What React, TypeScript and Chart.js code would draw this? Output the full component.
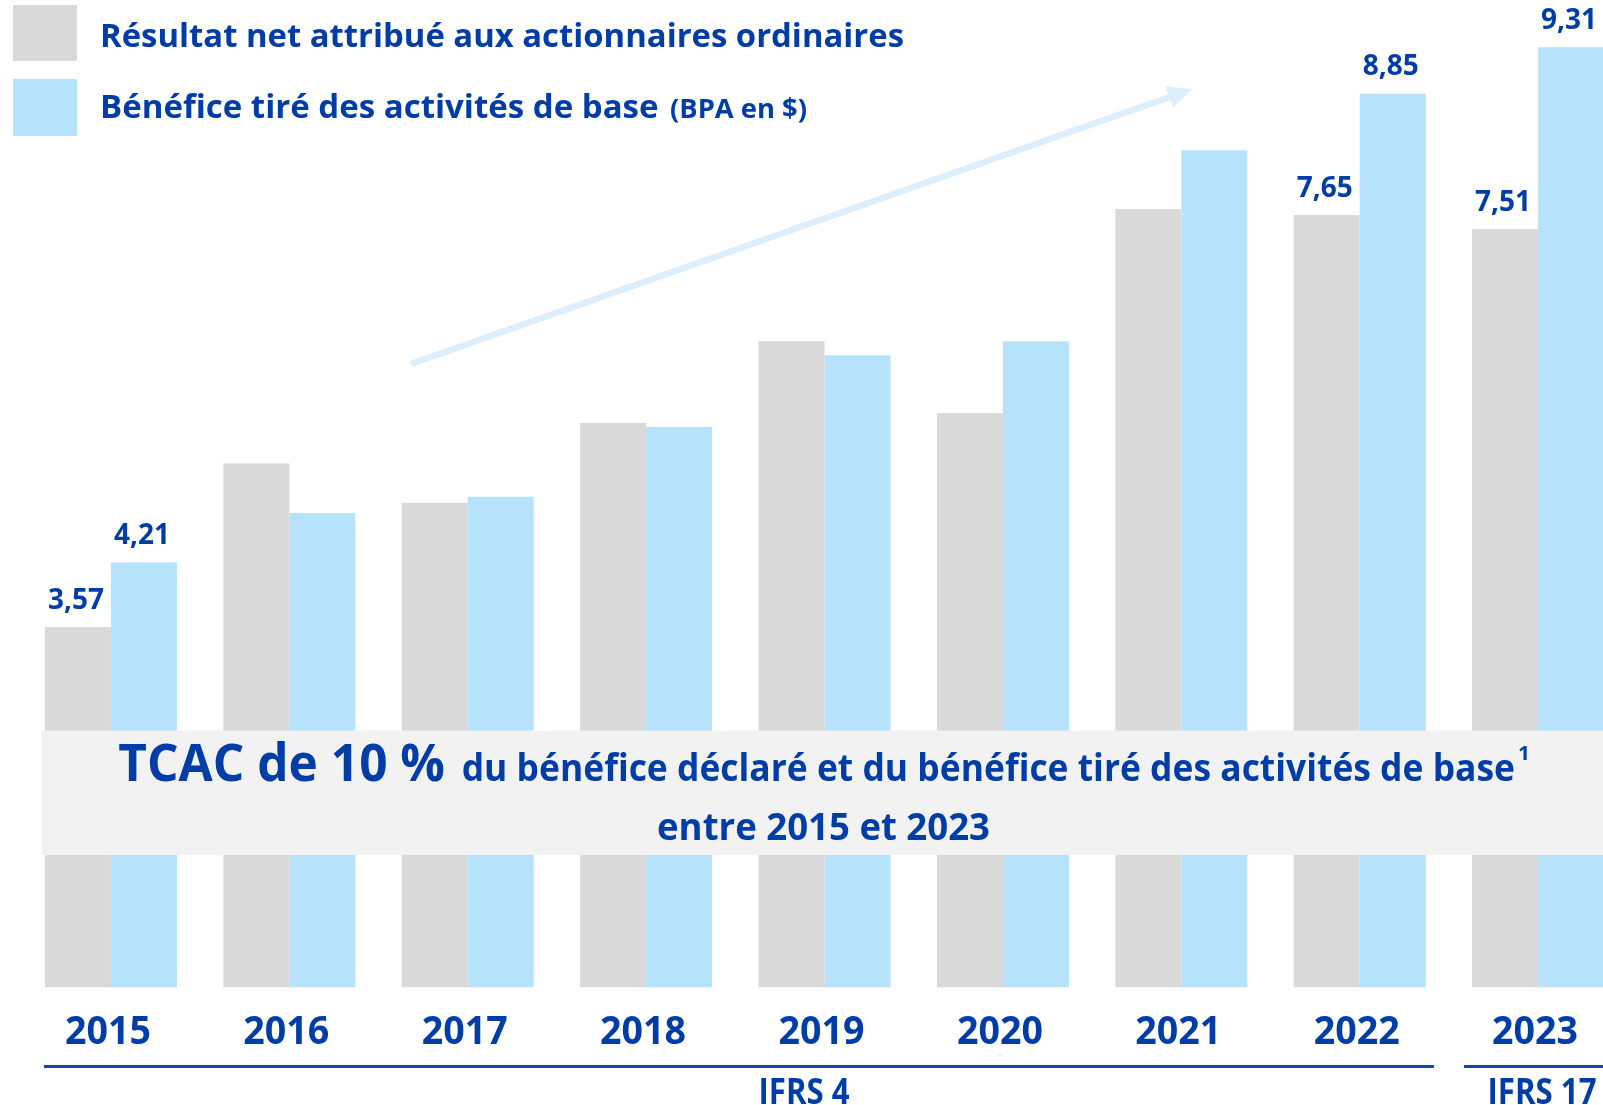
import React, { useEffect, useRef } from 'react';
import { Chart, registerables } from 'chart.js';

Chart.register(...registerables);

// ---------- Data ----------
const YEARS = ['2015', '2016', '2017', '2018', '2019', '2020', '2021', '2022', '2023'];
const NET_INCOME_EPS = [3.57, 5.19, 4.8, 5.59, 6.4, 5.69, 7.71, 7.65, 7.51];
const CORE_EPS = [4.21, 4.7, 4.86, 5.55, 6.26, 6.4, 8.29, 8.85, 9.31];
const LABELED_YEARS = ['2015', '2022', '2023'];
const SERIES_NAMES = [
  'Résultat net attribué aux actionnaires ordinaires',
  'Bénéfice tiré des activités de base',
];
const LEGEND_UNIT = '(BPA en $)';
const REGIME_NAMES = ['IFRS 4', 'IFRS 17'];
const REGIME_LAST_YEAR = ['2022', '2023'];
const BANNER_BIG = 'TCAC de 10 %';
const BANNER_SMALL = 'du bénéfice déclaré et du bénéfice tiré des activités de base';
const BANNER_NOTE = '1';
const BANNER_LINE2 = 'entre 2015 et 2023';

// ---------- Styles ----------
const TEXT_BLUE = '#003da6';
const GREY = '#d9d9d9';
const LIGHT_BLUE = '#b6e3fb';
const ARROW_BLUE = '#ddeffc';
const BANNER_BG = '#f2f2f2';
const FONT = '"Open Sans", "Noto Sans", "DejaVu Sans", sans-serif';

function drawText(
  ctx: CanvasRenderingContext2D,
  text: string,
  x: number,
  y: number,
  size: number,
  width?: number,
  align: 'left' | 'center' = 'left'
) {
  ctx.font = `700 ${size}px ${FONT}`;
  const w = ctx.measureText(text).width;
  const sx = width ? width / w : 1;
  ctx.save();
  ctx.translate(x, y);
  ctx.scale(sx, 1);
  ctx.textAlign = 'left';
  ctx.textBaseline = 'alphabetic';
  ctx.fillStyle = TEXT_BLUE;
  ctx.fillText(text, align === 'center' ? -w / 2 : 0, 0);
  ctx.restore();
}

const decorPlugin = {
  id: 'decor',
  beforeDatasetsDraw(chart: any) {
    const ctx: CanvasRenderingContext2D = chart.ctx;
    // growth arrow
    const x0 = 411, y0 = 364, x1 = 1192, y1 = 89;
    const dx = x1 - x0, dy = y1 - y0;
    const len = Math.hypot(dx, dy);
    const ux = dx / len, uy = dy / len;
    const head = 24, half = 11;
    ctx.save();
    ctx.strokeStyle = ARROW_BLUE;
    ctx.fillStyle = ARROW_BLUE;
    ctx.lineWidth = 6.5;
    ctx.lineCap = 'butt';
    ctx.beginPath();
    ctx.moveTo(x0, y0);
    ctx.lineTo(x1 - ux * head, y1 - uy * head);
    ctx.stroke();
    ctx.beginPath();
    ctx.moveTo(x1, y1);
    ctx.lineTo(x1 - ux * head - uy * half, y1 - uy * head + ux * half);
    ctx.lineTo(x1 - ux * head + uy * half, y1 - uy * head - ux * half);
    ctx.closePath();
    ctx.fill();
    ctx.restore();
  },
  afterDatasetsDraw(chart: any) {
    const ctx: CanvasRenderingContext2D = chart.ctx;
    const xScale = chart.scales.x;

    // value labels
    chart.data.datasets.forEach((ds: any, di: number) => {
      const meta = chart.getDatasetMeta(di);
      meta.data.forEach((el: any, i: number) => {
        if (!LABELED_YEARS.includes(chart.data.labels[i])) return;
        const txt = Number(ds.data[i]).toFixed(2).replace('.', ',');
        drawText(ctx, txt, el.x - 2, el.y - 18.4, 28, undefined, 'center');
      });
    });

    // banner
    ctx.save();
    ctx.fillStyle = BANNER_BG;
    ctx.fillRect(42, 730.5, chart.width - 42, 124.5);
    ctx.restore();
    drawText(ctx, BANNER_BIG, 118.3, 780.5, 52, 326.7);
    drawText(ctx, BANNER_SMALL, 461.7, 780.5, 38, 1053.3);
    drawText(ctx, BANNER_NOTE, 1518, 759.5, 20, 12);
    drawText(ctx, BANNER_LINE2, 657, 839.5, 38, 333);

    // legend
    const colors = [GREY, LIGHT_BLUE];
    const boxes = [
      [13, 5, 64, 56],
      [13, 79, 64, 57],
    ];
    ctx.save();
    boxes.forEach((b, i) => {
      ctx.fillStyle = colors[i];
      ctx.fillRect(b[0], b[1], b[2], b[3]);
    });
    ctx.restore();
    drawText(ctx, chart.data.datasets[0].label, 100, 46.7, 32, 804);
    drawText(ctx, chart.data.datasets[1].label, 100, 118.3, 32, 558.5);
    drawText(ctx, LEGEND_UNIT, 670, 118.3, 26, 137);

    // year labels
    chart.data.labels.forEach((lab: string, i: number) => {
      drawText(ctx, lab, xScale.getPixelForValue(i) - 3, 1043.5, 39, 86, 'center');
    });

    // regime lines
    const firstLeft = xScale.getPixelForValue(0) - 67;
    const boundary =
      (xScale.getPixelForValue(YEARS.indexOf(REGIME_LAST_YEAR[0])) +
        xScale.getPixelForValue(YEARS.indexOf(REGIME_LAST_YEAR[1]))) / 2;
    ctx.save();
    ctx.strokeStyle = '#1a45a8';
    ctx.lineWidth = 3;
    ctx.beginPath();
    ctx.moveTo(firstLeft, 1066.5);
    ctx.lineTo(boundary - 15, 1066.5);
    ctx.moveTo(boundary + 15, 1066.5);
    ctx.lineTo(chart.width, 1066.5);
    ctx.stroke();
    ctx.restore();
    drawText(ctx, REGIME_NAMES[0], 804, 1104, 35, 91, 'center');
    drawText(ctx, REGIME_NAMES[1], 1542, 1104, 35, 109, 'center');
  },
};

export default function App() {
  const ref = useRef<HTMLCanvasElement | null>(null);

  useEffect(() => {
    if (!ref.current) return;
    const chart = new Chart(ref.current, {
      type: 'bar',
      data: {
        labels: YEARS,
        datasets: [
          {
            label: SERIES_NAMES[0],
            data: NET_INCOME_EPS,
            backgroundColor: GREY,
            borderWidth: 0,
            barPercentage: 1,
            categoryPercentage: 0.74,
          },
          {
            label: SERIES_NAMES[1],
            data: CORE_EPS,
            backgroundColor: LIGHT_BLUE,
            borderWidth: 0,
            barPercentage: 1,
            categoryPercentage: 0.74,
          },
        ],
      },
      options: {
        responsive: false,
        animation: false,
        devicePixelRatio: 1,
        layout: { padding: { left: 21.7, right: 12.7, top: 7.9, bottom: 117.4 } },
        scales: {
          x: { display: false, offset: true },
          y: { display: false, min: 0, max: 9.7 },
        },
        plugins: {
          legend: { display: false },
          tooltip: { enabled: false },
        },
      },
      plugins: [decorPlugin],
    } as any);
    return () => chart.destroy();
  }, []);

  return (
    <div
      style={{
        position: 'fixed',
        left: 0,
        top: 0,
        width: 1603,
        height: 1105,
        overflow: 'hidden',
        background: '#ffffff',
      }}
    >
      <canvas ref={ref} width={1640} height={1105} style={{ display: 'block', width: 1640, height: 1105 }} />
    </div>
  );
}
